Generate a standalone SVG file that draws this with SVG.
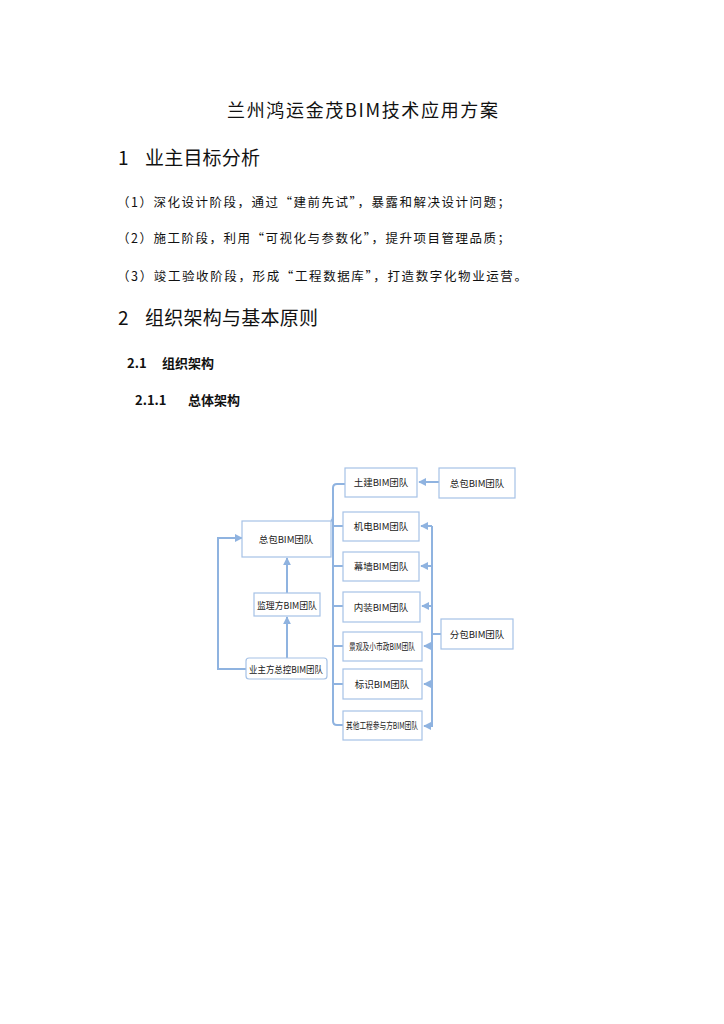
<svg xmlns="http://www.w3.org/2000/svg" width="724" height="1024" viewBox="0 0 724 1024">
<style>
.t{font-family:"Noto Sans CJK SC","Liberation Serif",serif;fill:#111}
.b{fill:#fff;stroke:#a6c2e6;stroke-width:1.2}
.n{font-family:"Noto Sans CJK SC",sans-serif;font-size:9.5px;fill:#222;text-anchor:middle}
.c{fill:none;stroke:#8fb3e0;stroke-width:2}
</style>
<defs><marker id="a" viewBox="0 0 10 10" refX="9" refY="5" markerWidth="4" markerHeight="4" orient="auto"><path d="M0,0L10,5L0,10z" fill="#8fb3e0"/></marker></defs>
<rect width="724" height="1024" fill="#fff"/>
<text class="t" x="227" y="117" font-size="18" textLength="271">兰州鸿运金茂BIM技术应用方案</text>
<text class="t" x="118" y="165" font-size="19">1</text>
<text class="t" x="145" y="165" font-size="19" textLength="115">业主目标分析</text>
<text class="t" x="117" y="207" font-size="12.5" fill="#333" textLength="393">（1）深化设计阶段，通过“建前先试”，暴露和解决设计问题；</text>
<text class="t" x="117" y="243" font-size="12.5" fill="#333" textLength="393">（2）施工阶段，利用“可视化与参数化”，提升项目管理品质；</text>
<text class="t" x="117" y="281" font-size="12.5" fill="#333" textLength="410">（3）竣工验收阶段，形成“工程数据库”，打造数字化物业运营。</text>
<text class="t" x="118" y="325" font-size="19">2</text>
<text class="t" x="145" y="325" font-size="19" textLength="173">组织架构与基本原则</text>
<text class="t" x="127" y="368" font-size="13" font-weight="bold">2.1</text>
<text class="t" x="162" y="368" font-size="13" font-weight="bold">组织架构</text>
<text class="t" x="135" y="405" font-size="13" font-weight="bold">2.1.1</text>
<text class="t" x="188" y="405" font-size="13" font-weight="bold">总体架构</text>
<g id="connectors">
<path class="c" d="M331,521Q333,520 333,516V488Q333,484 337,484H345"/>
<path class="c" d="M333,500V721Q333,725 337,725H343M333,526H343M333,566H343M333,606H343M333,646H343M333,684H343"/>
<path class="c" d="M439,482H419" marker-end="url(#a)"/>
<path class="c" d="M441,634H432M432,526V727"/>
<path class="c" d="M432,526H421" marker-end="url(#a)"/>
<path class="c" d="M432,566H421" marker-end="url(#a)"/>
<path class="c" d="M432,606H422" marker-end="url(#a)"/>
<path class="c" d="M432,646H424" marker-end="url(#a)"/>
<path class="c" d="M432,684H424" marker-end="url(#a)"/>
<path class="c" d="M432,726H424" marker-end="url(#a)"/>
<path class="c" d="M246,669H218V538H242" marker-end="url(#a)"/>
<path class="c" d="M287,658V617" marker-end="url(#a)"/>
<path class="c" d="M287,593V558" marker-end="url(#a)"/>
</g>
<g id="n1"><rect class="b" x="345" y="468" width="72" height="29"/><text class="n" x="381" y="486">土建BIM团队</text></g>
<g id="n2"><rect class="b" x="439" y="468" width="76" height="30"/><text class="n" x="477" y="487">总包BIM团队</text></g>
<g id="n3"><rect class="b" x="343" y="512" width="76" height="29"/><text class="n" x="381" y="530">机电BIM团队</text></g>
<g id="n4"><rect class="b" x="343" y="552" width="76" height="29"/><text class="n" x="381" y="570">幕墙BIM团队</text></g>
<g id="n5"><rect class="b" x="343" y="592" width="77" height="30"/><text class="n" x="381" y="611">内装BIM团队</text></g>
<g id="n6"><rect class="b" x="343" y="632" width="79" height="29"/><text class="n" x="382" y="650" font-size="8.5" textLength="66" lengthAdjust="spacingAndGlyphs">景观及小市政BIM团队</text></g>
<g id="n7"><rect class="b" x="343" y="669" width="79" height="30"/><text class="n" x="382" y="688">标识BIM团队</text></g>
<g id="n8"><rect class="b" x="343" y="711" width="79" height="29"/><text class="n" x="382" y="729" font-size="8.5" textLength="72" lengthAdjust="spacingAndGlyphs">其他工程参与方BIM团队</text></g>
<g id="n9"><rect class="b" x="441" y="619" width="72" height="30"/><text class="n" x="477" y="638">分包BIM团队</text></g>
<g id="n10"><rect class="b" x="242" y="521" width="89" height="36"/><text class="n" x="286" y="543" font-size="11.5">总包BIM团队</text></g>
<g id="n11"><rect class="b" x="254" y="593" width="66" height="23"/><text class="n" x="287" y="609" font-size="10" textLength="60" lengthAdjust="spacingAndGlyphs" fill="#1aa84a">监理方BIM团队</text></g>
<g id="n12"><rect class="b" x="246" y="658" width="81" height="21" rx="3"/><text class="n" x="286" y="673" font-size="10" textLength="74" lengthAdjust="spacingAndGlyphs" fill="#c00000">业主方总控BIM团队</text></g>
</svg>
